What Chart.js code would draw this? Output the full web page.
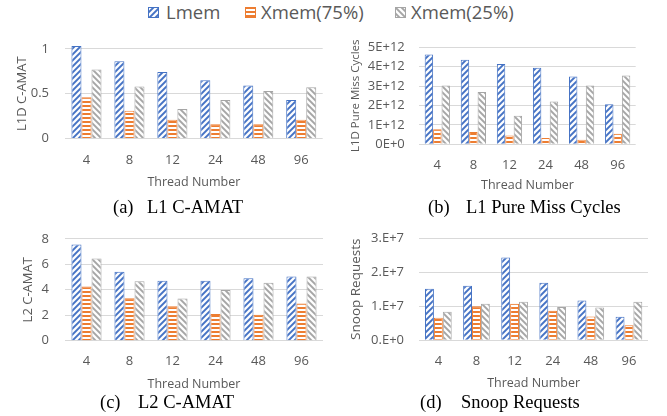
<!DOCTYPE html>
<html><head><meta charset="utf-8">
<script src="https://cdn.jsdelivr.net/npm/chart.js@4.4.0/dist/chart.umd.min.js"></script>
<style>
body{margin:0;background:#fff;width:667px;height:416px;overflow:hidden;position:relative;font-family:'Open Sans',sans-serif;}
canvas.c{position:absolute;}
.lt{position:absolute;top:0;height:24px;line-height:24px;font-size:18.5px;color:#595959;white-space:nowrap;font-family:'Open Sans',sans-serif;}
.sw{position:absolute;}
.cap{position:absolute;font-family:'Liberation Serif','Times New Roman',serif;font-size:18.5px;color:#000;line-height:20px;white-space:nowrap;}
</style></head><body>
<canvas class="sw" id="sw0" width="11" height="11" style="left:148px;top:7px"></canvas>
<div class="lt" style="left:166px">Lmem</div>
<canvas class="sw" id="sw1" width="11" height="11" style="left:245px;top:7px"></canvas>
<div class="lt" style="left:261px">Xmem(75%)</div>
<canvas class="sw" id="sw2" width="11" height="11" style="left:395px;top:7px"></canvas>
<div class="lt" style="left:411px">Xmem(25%)</div>

<canvas class="c" id="cA" width="333" height="170" style="left:0;top:25px"></canvas>
<canvas class="c" id="cB" width="334" height="170" style="left:333px;top:25px"></canvas>
<canvas class="c" id="cC" width="333" height="180" style="left:0;top:215px"></canvas>
<canvas class="c" id="cD" width="334" height="180" style="left:333px;top:215px"></canvas>

<div class="cap" style="left:113px;top:197px">(a)</div><div class="cap" style="left:147px;top:197px">L1 C-AMAT</div>
<div class="cap" style="left:428px;top:197px">(b)</div><div class="cap" style="left:466px;top:197px">L1 Pure Miss Cycles</div>
<div class="cap" style="left:100px;top:392px">(c)</div><div class="cap" style="left:138px;top:392px">L2 C-AMAT</div>
<div class="cap" style="left:420px;top:392px">(d)</div><div class="cap" style="left:461px;top:392px">Snoop Requests</div>

<script>
const threads = ['4','8','12','24','48','96'];
const seriesNames = ['Lmem','Xmem(75%)','Xmem(25%)'];

const l1Lmem = [1.03, 0.86, 0.74, 0.65, 0.59, 0.43];
const l1X75  = [0.46, 0.31, 0.21, 0.16, 0.16, 0.21];
const l1X25  = [0.77, 0.58, 0.33, 0.43, 0.53, 0.57];

const pmLmem = [4.63e12, 4.36e12, 4.14e12, 3.94e12, 3.50e12, 2.06e12];
const pmX75  = [0.78e12, 0.64e12, 0.46e12, 0.32e12, 0.23e12, 0.55e12];
const pmX25  = [3.03e12, 2.69e12, 1.47e12, 2.20e12, 3.03e12, 3.55e12];

const l2Lmem = [7.55, 5.41, 4.71, 4.71, 4.90, 5.04];
const l2X75  = [4.26, 3.34, 2.71, 2.10, 2.03, 2.92];
const l2X25  = [6.45, 4.66, 3.32, 3.98, 4.55, 5.04];

const snLmem = [1.51e7, 1.60e7, 2.43e7, 1.69e7, 1.17e7, 0.69e7];
const snX75  = [0.66e7, 1.00e7, 1.07e7, 0.87e7, 0.70e7, 0.44e7];
const snX25  = [0.84e7, 1.07e7, 1.13e7, 0.98e7, 0.96e7, 1.13e7];

const ticksA = [0, 0.5, 1];
const ticksB = ['0E+0','1E+12','2E+12','3E+12','4E+12','5E+12'];
const ticksC = [0, 2, 4, 6, 8];
const ticksD = ['0.E+0','1.E+7','2.E+7','3.E+7'];

const colors = ['#4472C4', '#ED7D31', '#A5A5A5'];
const kinds = ['up', 'h', 'down'];

function hexRgb(h){return [parseInt(h.substr(1,2),16),parseInt(h.substr(3,2),16),parseInt(h.substr(5,2),16)];}
function makeTile(color, kind){
  const P = kind === 'h' ? 4 : 6;
  const c = document.createElement('canvas'); c.width = P; c.height = P;
  const g = c.getContext('2d');
  const img = g.createImageData(P, P);
  const rgb = hexRgb(color);
  for (let y = 0; y < P; y++) for (let x = 0; x < P; x++) {
    let cov;
    if (kind === 'h') {
      cov = (y % 4) < 2 ? 1 : 0;
    } else {
      const s = kind === 'up' ? (x + y + 1) : (x - y + P);
      let u = ((s % P) + P) % P;
      const d = Math.min(u, P - u) / Math.SQRT2;
      cov = Math.max(0, Math.min(1, 1.0 + 0.5 - d));
    }
    const i = (y * P + x) * 4;
    img.data[i] = Math.round(255 + (rgb[0] - 255) * cov);
    img.data[i+1] = Math.round(255 + (rgb[1] - 255) * cov);
    img.data[i+2] = Math.round(255 + (rgb[2] - 255) * cov);
    img.data[i+3] = 255;
  }
  g.putImageData(img, 0, 0);
  return c;
}
const tiles = colors.map((c, i) => makeTile(c, kinds[i]));
function pat(ctx, i){ return ctx.createPattern(tiles[i], 'repeat'); }

// legend swatches
for (let i = 0; i < 3; i++) {
  const cv = document.getElementById('sw' + i);
  const g = cv.getContext('2d');
  g.fillStyle = pat(g, i); g.fillRect(0, 0, 11, 11);
  g.strokeStyle = colors[i]; g.lineWidth = 1; g.strokeRect(0.5, 0.5, 10, 10);
}

const tickColor = '#595959';
const FONT = 'Open Sans';

function build(id, vals, cfg){
  const cv = document.getElementById(id);
  const ctx = cv.getContext('2d');
  new Chart(cv, {
    type: 'bar',
    data: {
      labels: threads,
      datasets: vals.map((v, i) => ({
        label: seriesNames[i], data: v,
        backgroundColor: pat(ctx, i), borderColor: colors[i], borderWidth: 1,
        categoryPercentage: 0.7, barPercentage: 1, clip: false
      }))
    },
    options: {
      responsive: false, animation: false, devicePixelRatio: 1,
      layout: {padding: {left: 0, right: cfg.padR, top: cfg.padT, bottom: 0}},
      plugins: {legend: {display: false}, tooltip: {enabled: false}},
      scales: {
        x: {
          grid: {display: false, drawTicks: false}, border: {display: false},
          ticks: {color: tickColor, font: {family: FONT, size: 13}, padding: cfg.xtp, maxRotation: 0, autoSkip: false},
          title: {display: true, text: 'Thread Number', color: tickColor, font: {family: FONT, size: 12.5}, padding: {top: 0, bottom: cfg.xtb}},
          afterFit: s => { s.height = cfg.xh; }
        },
        y: {
          min: 0, max: cfg.max,
          ticks: {stepSize: cfg.step, color: tickColor, font: {family: FONT, size: 13}, padding: cfg.ytp,
                  callback: (v, idx) => cfg.labels[idx]},
          grid: {color: '#D9D9D9', drawTicks: false, lineWidth: 1},
          border: {display: false},
          title: {display: true, text: cfg.ytitle, color: tickColor, font: {family: FONT, size: cfg.yts}, padding: {top: cfg.ytt, bottom: 0}},
          afterFit: s => { s.width = cfg.yw; }
        }
      }
    }
  });
}

build('cA', [l1Lmem, l1X75, l1X25], {max: 1, step: 0.5, labels: ticksA.map(String), ytitle: 'L1D C-AMAT', yts: 13, ytt: 14,
  padR: 10.3, padT: 10.3, yw: 65, xh: 56.5, xtp: 14, xtb: 5.5, ytp: 16});
build('cB', [pmLmem, pmX75, pmX25], {max: 5e12, step: 1e12, labels: ticksB, ytitle: 'L1D Pure Miss Cycles', yts: 11.5, ytt: 16,
  padR: 31.3, padT: 10.3, yw: 86.3, xh: 50.7, xtp: 13, xtb: 2.5, ytp: 14.5});
build('cC', [l2Lmem, l2X75, l2X25], {max: 8, step: 2, labels: ticksC.map(String), ytitle: 'L2 C-AMAT', yts: 13, ytt: 20,
  padR: 10, padT: 12.3, yw: 65, xh: 54.3, xtp: 13.2, xtb: 3.5, ytp: 16});
build('cD', [snLmem, snX75, snX25], {max: 3e7, step: 1e7, labels: ticksD, ytitle: 'Snoop Requests', yts: 13.5, ytt: 15,
  padR: 19, padT: 12, yw: 86.3, xh: 54.7, xtp: 13, xtb: 4.5, ytp: 15.3});
</script>
</body></html>
